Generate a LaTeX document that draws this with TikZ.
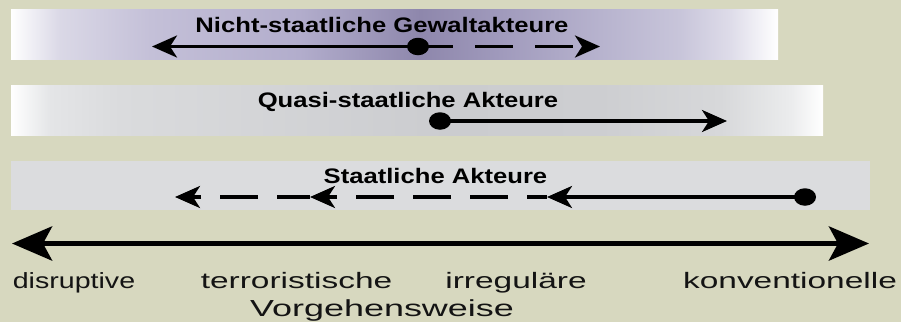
\documentclass[tikz,border=0pt]{standalone}
\usepackage{fontspec}
\setmainfont{Liberation Sans}
\newfontfamily\titlefont[FakeStretch=1.22]{Liberation Sans Bold}
\newfontfamily\labelfont[FakeStretch=1.5]{Liberation Sans}
\newfontfamily\labelnarrow[FakeStretch=1.3]{Liberation Sans}
\newfontfamily\labelwide[FakeStretch=1.55]{Liberation Sans}
\usetikzlibrary{arrows.meta,shapes.geometric}
\definecolor{bg}{RGB}{215,216,191}
\definecolor{bandgrey}{RGB}{219,220,222}
\definecolor{labtext}{RGB}{20,20,20}
\pgfdeclarehorizontalshading{purpleband}{100bp}{%
 color(0bp)=(white); color(25bp)=(white);
 color(28.2bp)=(rgb,255:red,218;green,216;blue,230);
 color(34.1bp)=(rgb,255:red,196;green,192;blue,216);
 color(43.8bp)=(rgb,255:red,178;green,173;blue,204);
 color(51.7bp)=(rgb,255:red,142;green,135;blue,172);
 color(56.9bp)=(rgb,255:red,160;green,154;blue,188);
 color(63.4bp)=(rgb,255:red,183;green,179;blue,206);
 color(68.6bp)=(rgb,255:red,200;green,197;blue,218);
 color(71.9bp)=(rgb,255:red,222;green,220;blue,233);
 color(75bp)=(white); color(100bp)=(white)}
\pgfdeclarehorizontalshading{greyband}{100bp}{%
 color(0bp)=(white); color(25bp)=(white);
 color(27.4bp)=(rgb,255:red,228;green,229;blue,231);
 color(31.7bp)=(rgb,255:red,218;green,219;blue,221);
 color(52bp)=(rgb,255:red,203;green,204;blue,207);
 color(61.3bp)=(rgb,255:red,205;green,206;blue,209);
 color(68.7bp)=(rgb,255:red,215;green,216;blue,218);
 color(73bp)=(rgb,255:red,235;green,236;blue,237);
 color(75bp)=(white); color(100bp)=(white)}
\begin{document}
\begin{tikzpicture}[x=1pt,y=-1pt,
  dot/.style={ellipse, fill=black, inner sep=0pt, minimum width=22pt, minimum height=17.5pt},
  rowline/.style={line width=3.3pt},
  tip/.style={-{Stealth[length=25pt,width=22pt,inset=7pt]}},
  bothtips/.style={{Stealth[length=40pt,width=34pt,inset=9pt]}-{Stealth[length=40pt,width=34pt,inset=9pt]}},
  title/.style={font=\titlefont\fontsize{21}{21}\selectfont, anchor=base, inner sep=0pt},
  lab/.style={font=\labelfont\fontsize{22.3}{22}\selectfont, text=labtext, anchor=base, inner sep=0pt},
]
\fill[bg] (0,0) rectangle (901,322);
\useasboundingbox (0,0) rectangle (901,322);
\shade[shading=purpleband] (11,9) rectangle (778,59);
\shade[shading=greyband] (11,85) rectangle (823,135);
\fill[bandgrey] (11,161) rectangle (870,210);

\node[title] (t1) at (382,32) {Nicht-staatliche Gewaltakteure};
\node[title] (t2) at (408,107) {Quasi-staatliche Akteure};
\node[title] (t3) at (435.5,183) {Staatliche Akteure};

% row 1
\node[dot] (d1) at (418,46.5) {};
\coordinate (r1l) at (152,46.5);
\coordinate (r1r) at (600,46.5);
\draw[rowline,tip] (d1.center) -- (r1l);
\draw[rowline,tip,dash pattern=on 38pt off 22pt,dash phase=3pt] (d1.center) -- (r1r);

% row 2
\node[dot] (d2) at (440,121) {};
\coordinate (r2r) at (727,121);
\draw[rowline,tip] (d2.center) -- (r2r);

% row 3
\node[dot] (d3) at (805,197) {};
\coordinate (r3a) at (547,197);
\coordinate (r3b) at (310,197);
\coordinate (r3c) at (175,197);
\draw[rowline,tip] (d3.center) -- (r3a);
\draw[rowline,tip,dash pattern=on 38pt off 19pt,dash phase=18pt] (r3a) -- (r3b);
\draw[rowline,tip,dash pattern=on 38pt off 19pt,dash phase=5pt] (r3b) -- (r3c);

% main axis
\coordinate (al) at (12,243.5);
\coordinate (ar) at (869,243.5);
\draw[line width=5.5pt, bothtips] (al) -- (ar);

\node[lab, font=\labelnarrow\fontsize{22}{22}\selectfont] (l1) at (74,288.5) {disruptive};
\node[lab] (l2) at (296.5,288.5) {terroristische};
\node[lab] (l3) at (516,288.5) {irreguläre};
\node[lab] (l4) at (790,288.5) {konventionelle};
\node[lab, font=\labelwide\fontsize{23.2}{23}\selectfont] (l5) at (382,316) {Vorgehensweise};
\end{tikzpicture}
\end{document}
